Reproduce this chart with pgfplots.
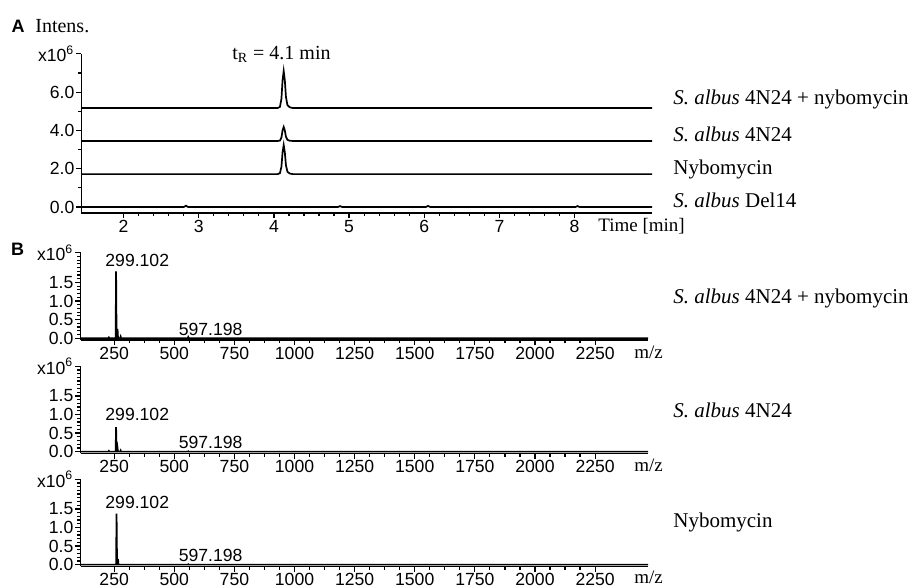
\documentclass[border=0pt]{standalone}
\usepackage{fontspec}
\setmainfont{Liberation Serif}
\setsansfont{Liberation Sans}
\usepackage{pgfplots}
\pgfplotsset{compat=1.18}

\pgfplotsset{
  panel/.style={
    scale only axis, axis lines=left, axis line style={-, line width=0.75pt},
    tick align=outside, major tick length=2.6pt, minor tick length=1.6pt,
    every tick/.style={black, line width=0.6pt},
    tick label style={font=\sffamily\fontsize{8.8}{8.8}\selectfont, inner sep=0.8pt},
    /pgf/number format/assume math mode=true,
    /pgf/number format/set thousands separator={},
    clip=false,
  },
  tr/.style={black, line width=0.85pt, mark=none},
  ms/.style={panel, width=283.75pt, height=43.65pt,
    xmin=110, xmax=2470, ymin=-0.05, ymax=2.3,
    xtick={250,500,...,2250}, minor x tick num=3,
    ytick={0,0.5,1,1.5,2.3}, yticklabels={0.0,0.5,1.0,1.5,x10\textsuperscript{6}},
    minor ytick={0.1,0.2,0.3,0.4,0.6,0.7,0.8,0.9,1.1,1.2,1.3,1.4,1.6,1.7,1.8,1.9,2.0,2.1,2.2},
  },
}

\begin{document}
\begin{tikzpicture}
\useasboundingbox (0,0) rectangle (456pt,-294pt);

% panel A: chromatograms
\begin{axis}[panel, anchor=south west, at={(40.75pt,-106.5pt)},
  width=285.25pt, height=79.6pt,
  xmin=1.44, xmax=9.03, ymin=-0.31, ymax=8,
  xtick={2,3,4,5,6,7,8}, minor x tick num=4,
  ytick={0,2,4,6,8}, yticklabels={0.0,2.0,4.0,6.0,x10\textsuperscript{6}},
  minor ytick={1,3,5,7}]
\addplot[tr] coordinates {(1.44,5.17) (4.05,5.17) (4.08,5.23) (4.10,5.65) (4.115,6.62) (4.13,7.10) (4.145,6.62) (4.16,5.75) (4.18,5.32) (4.21,5.21) (4.25,5.17) (9.03,5.17)};
\addplot[tr] coordinates {(1.44,3.45) (4.05,3.45) (4.08,3.47) (4.10,3.63) (4.115,4.00) (4.13,4.18) (4.145,4.00) (4.16,3.67) (4.18,3.51) (4.21,3.46) (4.25,3.45) (9.03,3.45)};
\addplot[tr] coordinates {(1.44,1.72) (4.05,1.72) (4.08,1.77) (4.10,2.10) (4.115,2.86) (4.13,3.24) (4.145,2.86) (4.16,2.18) (4.18,1.84) (4.21,1.75) (4.25,1.72) (9.03,1.72)};
\addplot[tr] coordinates {(1.44,0) (2.80,0) (2.83,0.07) (2.86,0) (4.85,0) (4.88,0.05) (4.91,0) (6.02,0) (6.05,0.06) (6.08,0) (8.01,0) (8.04,0.05) (8.07,0) (9.03,0)};
\node[anchor=base, font=\fontsize{10}{10}\selectfont] at (axis cs:4.1,7.68) {t\textsubscript{R} = 4.1 min};
\end{axis}

% panel B: mass spectra
\begin{axis}[ms, anchor=south west, at={(40.25pt,-170pt)}]
\addplot[tr] coordinates {(110,0) (226,0) (228,0.02) (230,0) (256,0) (258,1.80) (260,0) (262,0) (264,0.25) (266,0) (275,0) (277,0.04) (279,0) (556,0) (558,0.03) (560,0) (2470,0)};
\node[anchor=base, font=\sffamily\fontsize{8.8}{8.8}\selectfont] at (axis cs:346,1.92) {299.102};
\node[anchor=base, font=\sffamily\fontsize{8.8}{8.8}\selectfont] at (axis cs:651,0.08) {597.198};
\end{axis}

\begin{axis}[ms, anchor=south west, at={(40.25pt,-226.75pt)}]
\addplot[tr] coordinates {(110,0) (226,0) (228,0.02) (230,0) (256,0) (258,0.66) (260,0) (262,0) (264,0.10) (266,0) (275,0) (277,0.03) (279,0) (556,0) (558,0.01) (560,0) (2470,0)};
\node[anchor=base, font=\sffamily\fontsize{8.8}{8.8}\selectfont] at (axis cs:346,0.84) {299.102};
\node[anchor=base, font=\sffamily\fontsize{8.8}{8.8}\selectfont] at (axis cs:651,0.08) {597.198};
\end{axis}

\begin{axis}[ms, anchor=south west, at={(40.25pt,-283.25pt)}]
\addplot[tr] coordinates {(110,0) (258,0) (260,1.37) (262,0) (264,0) (266,0.15) (268,0) (556,0) (558,0.01) (560,0) (2470,0)};
\node[anchor=base, font=\sffamily\fontsize{8.8}{8.8}\selectfont] at (axis cs:346,1.50) {299.102};
\node[anchor=base, font=\sffamily\fontsize{8.8}{8.8}\selectfont] at (axis cs:651,0.08) {597.198};
\end{axis}

% panel letters and labels
\node[font=\sffamily\bfseries\fontsize{9}{9}\selectfont] at (9pt,-13pt) {A};
\node[anchor=base west, inner sep=0pt, font=\fontsize{10}{10}\selectfont] at (17.5pt,-16.5pt) {Intens.};
\node[font=\sffamily\bfseries\fontsize{9}{9}\selectfont] at (8.75pt,-124.5pt) {B};
\node[anchor=base west, inner sep=0pt, font=\fontsize{9.5}{9.5}\selectfont] at (299pt,-116pt) {Time [min]};

\begin{scope}[every node/.style={anchor=base west, inner sep=0pt, font=\fontsize{10.5}{10.5}\selectfont}]
\node at (336.5pt,-52.25pt) {\textit{S. albus} 4N24 + nybomycin};
\node at (336.5pt,-70.75pt) {\textit{S. albus} 4N24};
\node at (336.5pt,-87.5pt) {Nybomycin};
\node at (336.5pt,-104pt) {\textit{S. albus} Del14};
\node at (336.5pt,-152pt) {\textit{S. albus} 4N24 + nybomycin};
\node at (336.5pt,-209pt) {\textit{S. albus} 4N24};
\node at (336.5pt,-264pt) {Nybomycin};
\end{scope}
\begin{scope}[every node/.style={anchor=base west, inner sep=0pt, font=\fontsize{9.5}{9.5}\selectfont}]
\node at (317pt,-179.5pt) {m/z};
\node at (317pt,-236pt) {m/z};
\node at (317pt,-292pt) {m/z};
\end{scope}
\end{tikzpicture}
\end{document}
